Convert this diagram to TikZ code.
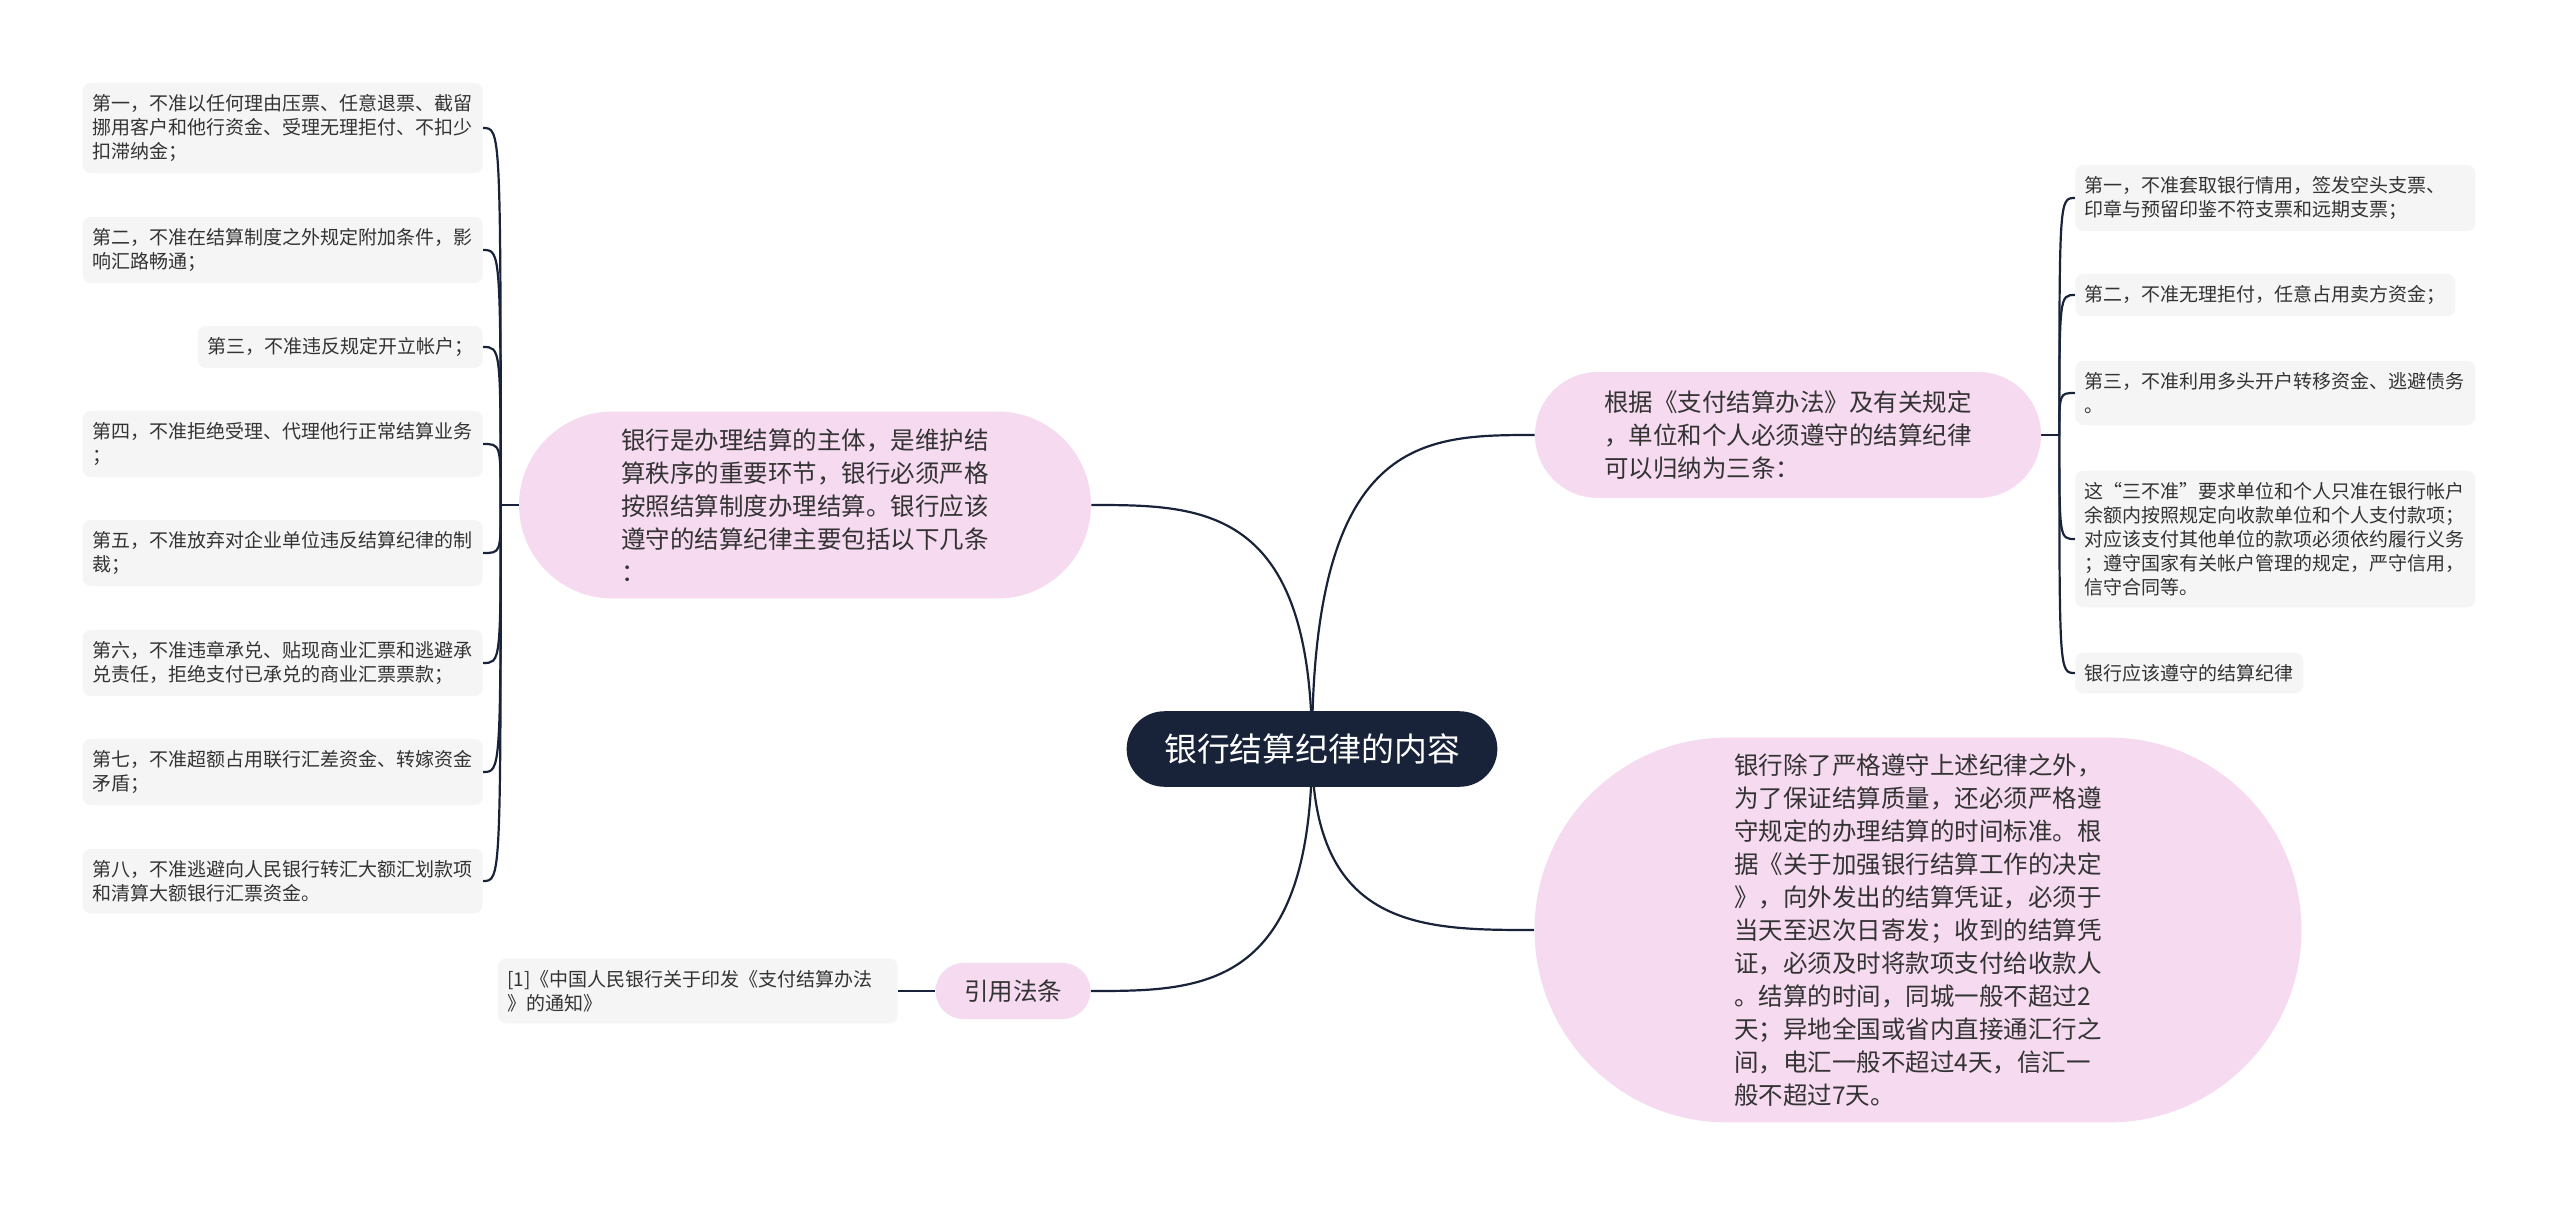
\documentclass[tikz,border=0pt]{standalone}
\usepackage{fontspec}
\setmainfont{Noto Sans CJK SC}
\usetikzlibrary{shapes.misc,calc,backgrounds}

\definecolor{rootblue}{HTML}{18233A}
\definecolor{pinkfill}{HTML}{F5DAF0}
\definecolor{leafgray}{HTML}{F5F5F5}
\definecolor{inkgray}{HTML}{333333}

\tikzset{
  root/.style={rounded rectangle, fill=rootblue, text=white, inner xsep=0pt,
    minimum width=211pt, minimum height=43pt, font=\fontsize{18.7pt}{22pt}\selectfont},
  branch/.style={rounded rectangle, fill=pinkfill, text=inkgray, align=left, inner xsep=0pt,
    font=\fontsize{13.94pt}{18.78pt}\selectfont},
  leaf/.style={fill=leafgray, text=inkgray, rounded corners=4.5pt, align=left,
    inner xsep=5.4pt, inner ysep=6.5pt, font=\fontsize{10.81pt}{13.66pt}\selectfont},
  wideleaf/.style={leaf, text width=216.8pt},
  link/.style={draw=rootblue, line width=1.25pt}
}

\begin{document}
\begin{tikzpicture}[x=0.02cm,y=-0.02cm]
\useasboundingbox (0,0) rectangle (2560,1204);
% \draw[style=help lines,gray!50] (0,0) grid[step=100] (2560,1204);
\node[root] (root) at (1312,749) {银行结算纪律的内容};
\node[branch,minimum width=325.5pt,minimum height=106.4pt] (b1) at (805,505)
  {银行是办理结算的主体，是维护结\\算秩序的重要环节，银行必须严格\\按照结算制度办理结算。银行应该\\遵守的结算纪律主要包括以下几条\\：};
\node[branch,minimum width=288pt,minimum height=71.7pt] (b2) at (1788,435)
  {根据《支付结算办法》及有关规定\\，单位和个人必须遵守的结算纪律\\可以归纳为三条：};
\node[branch,minimum width=436.5pt,minimum height=219pt] (b3) at (1918,930)
  {银行除了严格遵守上述纪律之外，\\为了保证结算质量，还必须严格遵\\守规定的办理结算的时间标准。根\\据《关于加强银行结算工作的决定\\》，向外发出的结算凭证，必须于\\当天至迟次日寄发；收到的结算凭\\证，必须及时将款项支付给收款人\\。结算的时间，同城一般不超过2\\天；异地全国或省内直接通汇行之\\间，电汇一般不超过4天，信汇一\\般不超过7天。};
\node[branch,minimum width=88.2pt,minimum height=31.9pt] (b4) at (1013,991) {引用法条};
% left leaves
\node[wideleaf,anchor=east] (l1) at (483,128) {第一，不准以任何理由压票、任意退票、截留\\挪用客户和他行资金、受理无理拒付、不扣少\\扣滞纳金；};
\node[wideleaf,anchor=east] (l2) at (483,250) {第二，不准在结算制度之外规定附加条件，影\\响汇路畅通；};
\node[leaf,anchor=east] (l3) at (483,347) {第三，不准违反规定开立帐户；};
\node[wideleaf,anchor=east] (l4) at (483,444) {第四，不准拒绝受理、代理他行正常结算业务\\；};
\node[wideleaf,anchor=east] (l5) at (483,553) {第五，不准放弃对企业单位违反结算纪律的制\\裁；};
\node[wideleaf,anchor=east] (l6) at (483,663) {第六，不准违章承兑、贴现商业汇票和逃避承\\兑责任，拒绝支付已承兑的商业汇票票款；};
\node[wideleaf,anchor=east] (l7) at (483,772) {第七，不准超额占用联行汇差资金、转嫁资金\\矛盾；};
\node[wideleaf,anchor=east] (l8) at (483,881) {第八，不准逃避向人民银行转汇大额汇划款项\\和清算大额银行汇票资金。};
% right leaves
\node[wideleaf,anchor=west] (r1) at (2075,198) {第一，不准套取银行情用，签发空头支票、\\印章与预留印鉴不符支票和远期支票；};
\node[leaf,anchor=west] (r2) at (2075,295) {第二，不准无理拒付，任意占用卖方资金；};
\node[wideleaf,anchor=west] (r3) at (2075,393) {第三，不准利用多头开户转移资金、逃避债务\\。};
\node[wideleaf,anchor=west] (r4) at (2075,539) {这“三不准”要求单位和个人只准在银行帐户\\余额内按照规定向收款单位和个人支付款项；\\对应该支付其他单位的款项必须依约履行义务\\；遵守国家有关帐户管理的规定，严守信用，\\信守合同等。};
\node[leaf,anchor=west] (r5) at (2075,673) {银行应该遵守的结算纪律};
\node[wideleaf,anchor=east] (cite) at (898,991) {[1]《中国人民银行关于印发《支付结算办法\\》的通知》};
\coordinate (jl) at ($(b1.west)+(-18,0)$);
\coordinate (jr) at ($(b2.east)+(18,0)$);
\def\rootcurve#1{(root.center) .. controls (root.center |- #1) and ($(root.center |- #1)!0.5!(#1)$) .. (#1)}
\begin{scope}[on background layer]
\fill[white] (0,0) rectangle (2560,1204);
\draw[link] \rootcurve{b1.east};
\draw[link] \rootcurve{b2.west};
\draw[link] \rootcurve{b3.west};
\draw[link] \rootcurve{b4.east};
\draw[link] (b1.west) -- (jl);
\draw[link] (b2.east) -- (jr);
\draw[link] (b4.west) -- (cite.east);
\foreach \n in {l1,l2,l3,l4,l5,l6,l7,l8}
  \draw[link] (jl) .. controls (jl |- \n.east) .. (\n.east);
\foreach \n in {r1,r2,r3,r4,r5}
  \draw[link] (jr) .. controls (jr |- \n.west) .. (\n.west);
\end{scope}
\end{tikzpicture}
\end{document}
